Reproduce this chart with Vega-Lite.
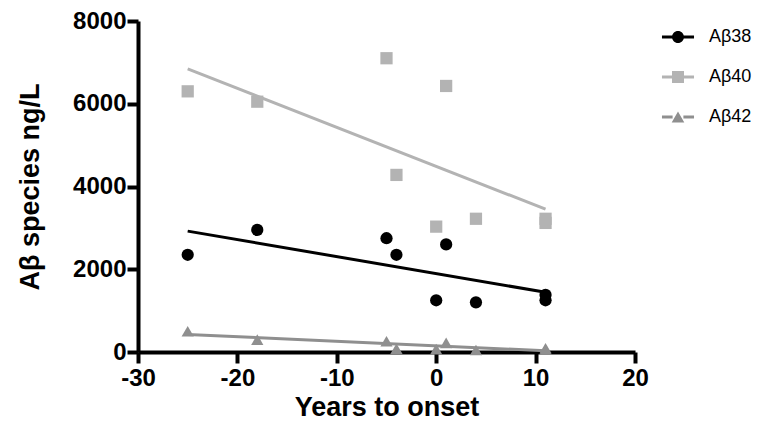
{
  "$schema": "https://vega.github.io/schema/vega-lite/v6.json",
  "autosize": {"type": "none"},
  "padding": {"left": 138, "top": 21, "right": 122, "bottom": 69},
  "width": 497,
  "height": 331,
  "background": "white",
  "data": {
    "values": [
      {"series": "Aβ38", "years": -25, "value": 2350},
      {"series": "Aβ38", "years": -18, "value": 2950},
      {"series": "Aβ38", "years": -5, "value": 2750},
      {"series": "Aβ38", "years": -4, "value": 2350},
      {"series": "Aβ38", "years": 0, "value": 1250},
      {"series": "Aβ38", "years": 1, "value": 2600},
      {"series": "Aβ38", "years": 4, "value": 1200},
      {"series": "Aβ38", "years": 11, "value": 1380},
      {"series": "Aβ38", "years": 11, "value": 1250},
      {"series": "Aβ40", "years": -25, "value": 6300},
      {"series": "Aβ40", "years": -18, "value": 6050},
      {"series": "Aβ40", "years": -5, "value": 7100},
      {"series": "Aβ40", "years": -4, "value": 4280},
      {"series": "Aβ40", "years": 0, "value": 3030},
      {"series": "Aβ40", "years": 1, "value": 6430},
      {"series": "Aβ40", "years": 4, "value": 3220},
      {"series": "Aβ40", "years": 11, "value": 3120},
      {"series": "Aβ40", "years": 11, "value": 3220},
      {"series": "Aβ42", "years": -25, "value": 500},
      {"series": "Aβ42", "years": -18, "value": 300},
      {"series": "Aβ42", "years": -5, "value": 260},
      {"series": "Aβ42", "years": -4, "value": 80},
      {"series": "Aβ42", "years": 0, "value": 70},
      {"series": "Aβ42", "years": 1, "value": 220},
      {"series": "Aβ42", "years": 4, "value": 50},
      {"series": "Aβ42", "years": 11, "value": 90},
      {"series": "Aβ42", "years": 11, "value": 60}
    ]
  },
  "config": {
    "view": {"stroke": null},
    "font": "Liberation Sans",
    "axis": {
      "grid": false,
      "domainColor": "black",
      "domainWidth": 4,
      "tickColor": "black",
      "tickWidth": 4,
      "tickSize": 11,
      "labelColor": "black",
      "labelFont": "Liberation Sans",
      "labelFontWeight": "bold",
      "labelFontSize": 24,
      "titleColor": "black",
      "titleFont": "Liberation Sans",
      "titleFontWeight": "bold",
      "titleFontSize": 27
    },
    "legend": {
      "title": null,
      "orient": "right",
      "offset": 27,
      "padding": 7,
      "symbolSize": 144,
      "symbolStrokeWidth": 0,
      "labelFont": "Liberation Sans",
      "labelFontSize": 18,
      "labelColor": "black",
      "labelOffset": 22,
      "rowPadding": 22
    }
  },
  "resolve": {
    "scale": {"shape": "independent", "color": "independent"},
    "legend": {"shape": "independent", "color": "independent"}
  },
  "encoding": {
    "x": {
      "type": "quantitative",
      "scale": {"domain": [-30, 20], "nice": false, "zero": false},
      "axis": {"title": "Years to onset", "values": [-30, -20, -10, 0, 10, 20], "labelExpr": "'' + datum.value", "labelPadding": 3, "titlePadding": 4, "labelFlush": false}
    },
    "y": {
      "type": "quantitative",
      "scale": {"domain": [0, 8000], "nice": false},
      "axis": {"title": "Aβ species ng/L", "values": [0, 2000, 4000, 6000, 8000], "labelExpr": "'' + datum.value", "labelPadding": 1, "titlePadding": 28, "labelFlush": false}
    }
  },
  "layer": [
    {
      "transform": [
        {"regression": "value", "on": "years", "groupby": ["series"]}
      ],
      "mark": {"type": "line", "strokeWidth": 3},
      "encoding": {
        "x": {"field": "years"},
        "y": {"field": "value"},
        "stroke": {
          "field": "series",
          "type": "nominal",
          "scale": {"domain": ["Aβ38", "Aβ40", "Aβ42"], "range": ["#000000", "#b3b3b3", "#8f8f8f"]},
          "legend": null
        }
      }
    },
    {
      "mark": {"type": "point", "filled": true, "opacity": 1, "size": 150},
      "encoding": {
        "x": {"field": "years"},
        "y": {"field": "value"},
        "shape": {
          "field": "series",
          "type": "nominal",
          "scale": {"domain": ["Aβ38", "Aβ40", "Aβ42"], "range": ["circle", "square", "triangle-up"]},
          "legend": null
        },
        "color": {
          "field": "series",
          "type": "nominal",
          "scale": {"domain": ["Aβ38", "Aβ40", "Aβ42"], "range": ["#000000", "#b3b3b3", "#8f8f8f"]},
          "legend": null
        }
      }
    },
    {
      "transform": [{"filter": "datum.years > 100"}],
      "mark": {"type": "point", "filled": true, "opacity": 1},
      "encoding": {
        "x": {"field": "years"},
        "y": {"field": "value"},
        "shape": {
          "field": "series",
          "type": "nominal",
          "scale": {
            "domain": ["Aβ38", "Aβ40", "Aβ42"],
            "range": [
              "M-2.67,-0.25H-0.9V0.25H-2.67Z M0.9,-0.25H2.67V0.25H0.9Z M1,0A1,1 0 1,1 -1,0A1,1 0 1,1 1,0Z",
              "M-2.67,-0.25H-0.9V0.25H-2.67Z M0.9,-0.25H2.67V0.25H0.9Z M-1,-1H1V1H-1Z",
              "M-2.67,-0.25H-0.9V0.25H-2.67Z M0.9,-0.25H2.67V0.25H0.9Z M0,-0.9L1.05,0.9H-1.05Z"
            ]
          },
          "legend": {"title": null}
        },
        "color": {
          "field": "series",
          "type": "nominal",
          "scale": {"domain": ["Aβ38", "Aβ40", "Aβ42"], "range": ["#000000", "#b3b3b3", "#8f8f8f"]},
          "legend": {"title": null}
        }
      }
    }
  ]
}
